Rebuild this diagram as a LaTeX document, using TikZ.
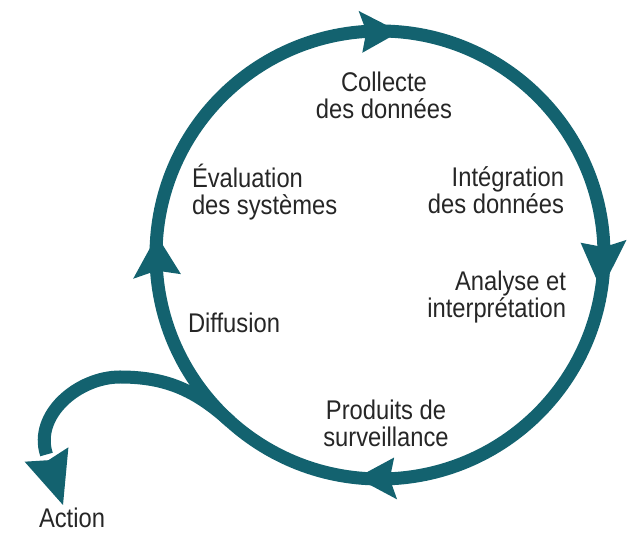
\documentclass[tikz,border=0pt]{standalone}
\usepackage{fontspec}
\setmainfont{Liberation Sans}[FakeStretch=0.88]
\definecolor{ringteal}{HTML}{13626F}
\definecolor{labelgray}{HTML}{262626}
\tikzset{
  ringline/.style={draw=ringteal, line width=13pt},
  headfill/.style={fill=ringteal},
  lbl/.style={inner sep=0pt, outer sep=0pt, text=labelgray,
    font=\fontsize{27}{26.5}\selectfont}
}
\begin{document}
\begin{tikzpicture}[x=1pt,y=1pt]
\useasboundingbox (0,0) rectangle (628,534);
\coordinate (c) at (380,279);
% ring
\draw[ringline] (c) circle[radius=224];
% arrowheads on the ring
\begin{scope}[shift={(c)}]
  \fill[headfill] (85:224) -- (95:245) -- (93.5:224) -- (95:203) -- cycle;
  \fill[headfill] (-9:224) -- (3.5:247) -- (2:224) -- (3.5:201) -- cycle;
  \fill[headfill] (264:224) -- (274:245) -- (272.5:224) -- (274:203) -- cycle;
  \fill[headfill] (175:224) -- (185.5:248) -- (184:224) -- (185.5:200) -- cycle;
  \coordinate (split) at (228:224);
\end{scope}
% labels
\node[lbl, anchor=base, align=center] (collecte) at (384,415.5) {Collecte\\des données};
\node[lbl, anchor=base east, align=right] (integ) at (564,320.5) {Intégration\\des données};
\node[lbl, anchor=base east, align=right] (analyse) at (566,216.5) {Analyse et\\interprétation};
\node[lbl, anchor=base, align=center] (produits) at (386,87.5) {Produits de\\surveillance};
\node[lbl, anchor=base west, align=left] (diffusion) at (188,201) {Diffusion};
\node[lbl, anchor=base west, align=left] (evaluation) at (192,319.5) {Évaluation\\des systèmes};
\node[lbl, anchor=base west] (action) at (39,6) {Action};
% branch to Action
\coordinate (bendtop) at (120,157);
\coordinate (branchend) at (46.5,79.5);
\coordinate (actiontip) at (63,29);
\draw[ringline] (split) to[out=138,in=0] (bendtop) to[out=180,in=108] (branchend);
\fill[headfill] (actiontip) -- (68.4,86.7) -- (48.4,73.8) -- (24.6,72.3) -- cycle;
\end{tikzpicture}
\end{document}
